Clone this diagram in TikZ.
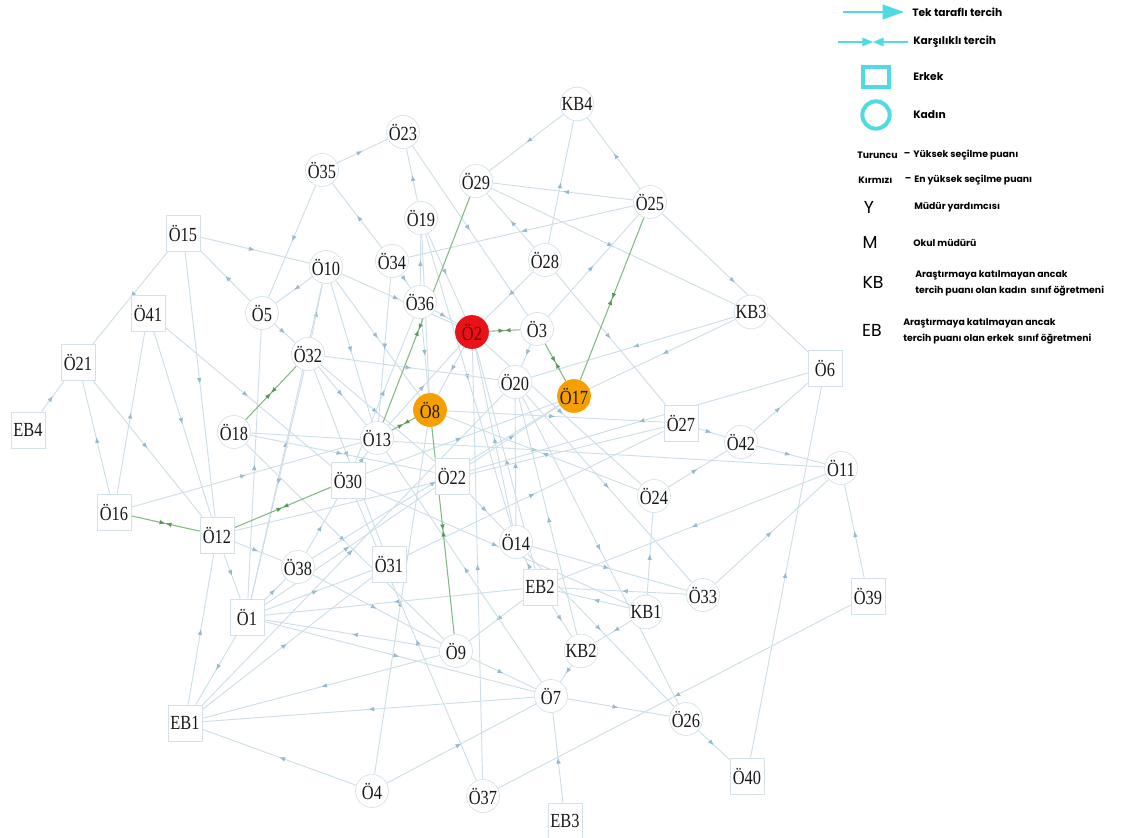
\documentclass[tikz,border=0pt]{standalone}
\usepackage{graphicx}
\usepackage{fontspec}
\setmainfont{Liberation Serif}
\newfontfamily\legfont{Poppins}
\usetikzlibrary{arrows.meta,decorations.markings,backgrounds}

\definecolor{edgecol}{RGB}{204,222,232}
\definecolor{arrcol}{RGB}{150,186,206}
\definecolor{nodeline}{RGB}{212,225,233}
\definecolor{mutcol}{RGB}{132,184,132}
\definecolor{mutarr}{RGB}{90,150,90}
\definecolor{orangenode}{RGB}{245,160,0}
\definecolor{rednode}{RGB}{232,18,24}
\definecolor{legcyan}{RGB}{80,218,225}
\definecolor{labcol}{RGB}{25,25,25}
\definecolor{darkred}{RGB}{110,0,0}

\newcommand{\nl}[1]{\scalebox{0.82}[1]{#1}}

\tikzset{
  cnode/.style={circle, draw=nodeline, fill=white, line width=0.5pt, minimum size=24.75pt, inner sep=0pt, font=\fontsize{15}{15}\selectfont, text=labcol},
  snode/.style={rectangle, draw=nodeline, fill=white, line width=0.5pt, minimum width=25.5pt, minimum height=27pt, inner sep=0pt, font=\fontsize{15}{15}\selectfont, text=labcol},
  orangefill/.style={fill=orangenode, draw=orangenode},
  redfill/.style={fill=rednode, draw=rednode, text=darkred},
  ed/.style={draw=edgecol, line width=0.7pt, postaction={decorate}, decoration={markings, mark=at position 0.5 with {\arrow{Latex[length=4.5pt,width=3.5pt,color=arrcol]}}}},
  mu/.style={draw=mutcol, line width=0.8pt, postaction={decorate}, decoration={markings, mark=at position #1 with {\arrow{Latex[length=4.5pt,width=3.5pt,color=mutarr]}}, mark=at position #1 with {\arrowreversed{Latex[length=4.5pt,width=3.5pt,color=mutarr]}}}},
  mu/.default=0.5,
  legtxt/.style={font=\legfont\bfseries\fontsize{8}{9}\selectfont, inner sep=0pt, anchor=west, text=black},
  legsmall/.style={font=\legfont\bfseries\fontsize{7}{12}\selectfont, inner sep=0pt, anchor=west, text=black, align=left},
  legbig/.style={font=\legfont\fontsize{13}{13}\selectfont, inner sep=0pt, text=black},
}

\begin{document}
\begin{tikzpicture}[x=0.75pt,y=-0.75pt]
\useasboundingbox (0,0) rectangle (1122,838);

% ---------- nodes ----------
\node[cnode] (kb4) at (577,104) {\nl{KB4}};
\node[cnode] (o23) at (403,132) {\nl{Ö23}};
\node[cnode] (o35) at (322,170) {\nl{Ö35}};
\node[cnode] (o29) at (476,181) {\nl{Ö29}};
\node[cnode] (o25) at (650,202) {\nl{Ö25}};
\node[cnode] (o19) at (421,218) {\nl{Ö19}};
\node[snode] (o15) at (183,233) {\nl{Ö15}};
\node[cnode] (o10) at (326,267) {\nl{Ö10}};
\node[cnode] (o34) at (392,261) {\nl{Ö34}};
\node[cnode] (o28) at (545,260) {\nl{Ö28}};
\node[cnode] (o36) at (420,302) {\nl{Ö36}};
\node[snode] (o41) at (148,313) {\nl{Ö41}};
\node[cnode] (o5) at (262,313) {\nl{Ö5}};
\node[cnode,redfill] (o2) at (472,332) {\nl{Ö2}};
\node[cnode] (o3) at (537,329) {\nl{Ö3}};
\node[cnode] (kb3) at (751,312) {\nl{KB3}};
\node[cnode] (o32) at (308,354) {\nl{Ö32}};
\node[snode] (o21) at (78,362) {\nl{Ö21}};
\node[snode] (o6) at (825,368) {\nl{Ö6}};
\node[cnode] (o20) at (515,382) {\nl{Ö20}};
\node[cnode,orangefill] (o17) at (574,396) {\nl{Ö17}};
\node[cnode,orangefill] (o8) at (430,410) {\nl{Ö8}};
\node[snode] (eb4) at (28,430) {\nl{EB4}};
\node[cnode] (o18) at (234,432) {\nl{Ö18}};
\node[cnode] (o13) at (377,438) {\nl{Ö13}};
\node[snode] (o27) at (681,423) {\nl{Ö27}};
\node[cnode] (o42) at (741,442) {\nl{Ö42}};
\node[cnode] (o11) at (841,468) {\nl{Ö11}};
\node[snode] (o30) at (348,480) {\nl{Ö30}};
\node[snode] (o22) at (452,476) {\nl{Ö22}};
\node[snode] (o16) at (114,512) {\nl{Ö16}};
\node[snode] (o12) at (217,535) {\nl{Ö12}};
\node[cnode] (o24) at (654,496) {\nl{Ö24}};
\node[cnode] (o14) at (516,542) {\nl{Ö14}};
\node[cnode] (o38) at (298,567) {\nl{Ö38}};
\node[snode] (o31) at (389,564) {\nl{Ö31}};
\node[snode] (eb2) at (540,587) {\nl{EB2}};
\node[cnode] (o33) at (703,595) {\nl{Ö33}};
\node[snode] (o39) at (868,596) {\nl{Ö39}};
\node[snode] (o1) at (247,617) {\nl{Ö1}};
\node[cnode] (kb1) at (646,612) {\nl{KB1}};
\node[cnode] (o9) at (456,651) {\nl{Ö9}};
\node[cnode] (kb2) at (581,651) {\nl{KB2}};
\node[cnode] (o7) at (551,696) {\nl{Ö7}};
\node[snode] (eb1) at (185,723) {\nl{EB1}};
\node[cnode] (o26) at (686,719) {\nl{Ö26}};
\node[snode] (o40) at (747,776) {\nl{Ö40}};
\node[cnode] (o4) at (372,791) {\nl{Ö4}};
\node[cnode] (o37) at (483,796) {\nl{Ö37}};
\node[snode] (eb3) at (565,821) {\nl{EB3}};

% ---------- connectors ----------
\begin{pgfonlayer}{background}
\foreach \a/\b in {
  kb4/o29, o28/kb4, o25/kb4, o35/o23, o19/o23, o23/o3, o35/o5, o34/o35,
  o25/o29, o28/o29, o29/kb3, o25/o34, o3/o25, o25/o6, o28/o2, o28/o27,
  o36/o19, o19/o2, o19/o8, o19/o14,
  o15/o21, o15/o12, o5/o15, o15/o10, o10/o2, o16/o41, o41/o12, o41/o30,
  eb4/o21, o16/o21, o21/o12, o16/o13, o12/o1, eb1/o12, o12/o38,
  o10/o5, o32/o10, o10/o13, o10/o8, o1/o10, o5/o32, o1/o5,
  o32/o13, o32/o1, o32/o20, o32/o31, o32/o22, o34/o36, o34/o13,
  o36/o2, o2/o8, o13/o2, o37/o2, o14/o2, eb2/o2, o2/o24,
  o20/o33, o3/o20, kb3/o17, kb3/o20, o14/o20, o8/o27, o4/o8, o18/o11,
  o6/o22, o27/o42, o27/o12, o42/o6, o42/o11, o24/o42, o39/o11, o33/o11,
  o11/eb2, o40/o6, kb1/o24, eb2/o14, o14/o33, o33/eb2, kb1/eb2, o14/o26,
  eb2/kb2, eb2/o9, eb2/o1, kb2/o20, kb2/o7, kb1/kb2,
  o9/o1, o9/eb1, o9/o7, eb3/o7, o7/o26, o7/eb1, o4/o7, o7/o13, o20/o26,
  o26/o40, o39/o37, o37/o30, o4/eb1, o1/eb1, eb1/o31, eb1/o20,
  o1/o38, o1/o31, o1/o22, o1/o7, o38/o30, o31/o27, o30/o13, o30/o17,
  o30/kb1, o22/o17, o22/o14, o18/o22, o18/o9, o36/o8, o24/o8, o38/o17,
  o38/o9, o30/o36}
  {\draw[ed] (\a) -- (\b);}
% mutual choices
\draw[mu] (o16) -- (o12);
\draw[mu] (o12) -- (o30);
\draw[mu] (o18) -- (o32);
\draw[mu] (o13) -- (o8);
\draw[mu=0.41] (o13) -- (o29);
\draw[mu] (o3) -- (o2);
\draw[mu] (o3) -- (o17);
\draw[mu] (o17) -- (o25);
\draw[mu] (o9) -- (o8);
\end{pgfonlayer}

% ---------- legend ----------
\coordinate (la1) at (843,12);
\coordinate (la2) at (904,12);
\draw[legcyan, line width=1.6pt, -{Triangle[length=16pt,width=11pt]}] (la1) -- (la2);
\node[legtxt] (lt1) at (912,12) {Tek taraflı tercih};

\coordinate (lm1) at (838,42);
\coordinate (lm2) at (908,42);
\coordinate (lmc) at (873,42);
\draw[legcyan, line width=1pt, -{Triangle[length=8pt,width=6.5pt]}] (lm1) -- (lmc);
\draw[legcyan, line width=1pt, -{Triangle[length=8pt,width=6.5pt]}] (lm2) -- (lmc);
\node[legtxt] (lt2) at (913,42) {Karşılıklı tercih};

\node[draw=legcyan, line width=3pt, minimum width=19pt, minimum height=15pt, inner sep=0pt] (lsq) at (876,77) {};
\node[legtxt] (lt3) at (913,77) {Erkek};
\node[draw=legcyan, line width=3pt, circle, minimum size=20.5pt, inner sep=0pt] (lci) at (876,115) {};
\node[legtxt] (lt4) at (913,115) {Kadın};

\node[legsmall] (lt5a) at (857,155) {Turuncu};
\node[legsmall, anchor=center] (lt5b) at (907,155) {–};
\node[legsmall] (lt5c) at (913,155) {Yüksek seçilme puanı};
\node[legsmall] (lt6a) at (858,180) {Kırmızı};
\node[legsmall, anchor=center] (lt6b) at (908,180) {–};
\node[legsmall] (lt6c) at (914,180) {En yüksek seçilme puanı};

\node[legbig] (ly) at (869,207) {Y};
\node[legsmall] (lt7) at (914,207) {Müdür yardımcısı};
\node[legbig] (lmm) at (870,243) {M};
\node[legsmall] (lt8) at (913,243) {Okul müdürü};
\node[legbig] (lkb) at (873,282) {KB};
\node[legsmall] (lt9) at (915,283) {Araştırmaya katılmayan ancak\\tercih puanı olan kadın\ \ sınıf öğretmeni};
\node[legbig] (leb) at (872,330) {EB};
\node[legsmall] (lt10) at (903,331) {Araştırmaya katılmayan ancak\\tercih puanı olan erkek\ \ sınıf öğretmeni};
\end{tikzpicture}
\end{document}
